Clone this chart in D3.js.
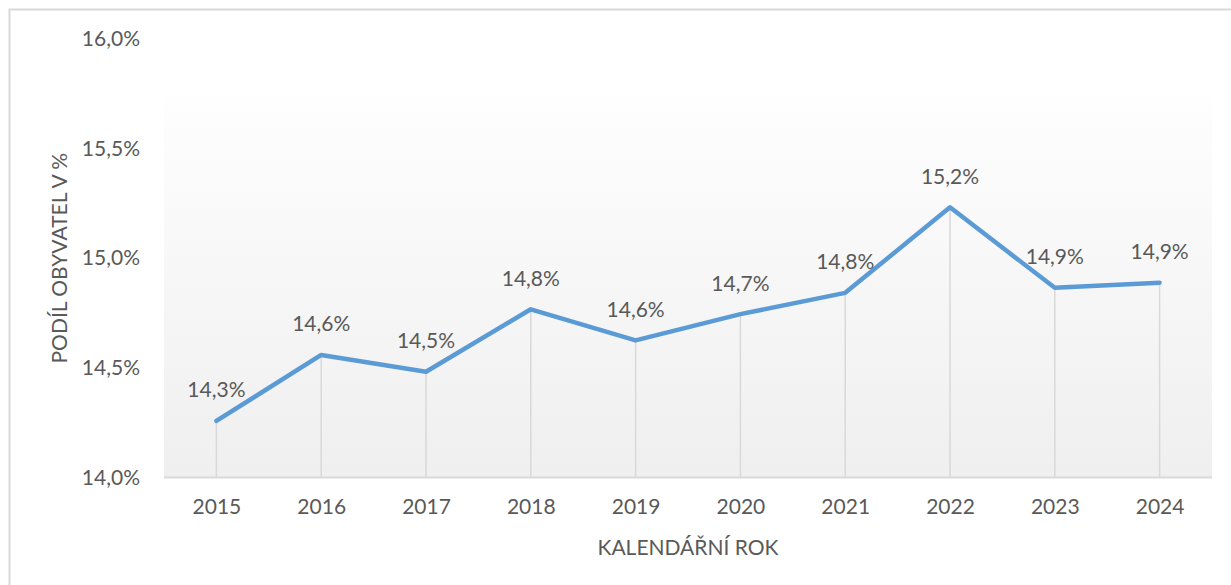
<!DOCTYPE html>
<html>
<head>
<meta charset="utf-8">
<script src="https://cdn.jsdelivr.net/npm/d3@7"></script>
<style>
  body { margin: 0; background: #fff; }
  text { font-family: Lato, "Open Sans", sans-serif; fill: #595959; }
</style>
</head>
<body>
<div class="chart"></div>
<script>
// Data

const years = ["2015", "2016", "2017", "2018", "2019", "2020", "2021", "2022", "2023", "2024"];
const shares = [14.258, 14.559, 14.482, 14.767, 14.625, 14.745, 14.842, 15.232, 14.865, 14.888];
const shareLabels = ["14,3%", "14,6%", "14,5%", "14,8%", "14,6%", "14,7%", "14,8%", "15,2%", "14,9%", "14,9%"];
const yTicks = [14.0, 14.5, 15.0, 15.5, 16.0];

// Measurements

const W = 1231, H = 585;
const plot = { left: 164, right: 1212, top: 95, bottom: 477 };
const lineColor = "#5B9BD5";
const gridColor = "#d9d9d9";

const svg = d3.select(".chart")
  .append("svg")
  .attr("width", W)
  .attr("height", H);

// Outer chart border

svg.append("rect")
  .attr("x", 9.5).attr("y", 9.5)
  .attr("width", W + 20).attr("height", H + 20)
  .attr("fill", "#fff")
  .attr("stroke", "#d9d9d9")
  .attr("stroke-width", 2);

// Scales

const x = d3.scalePoint()
  .domain(years)
  .range([plot.left, plot.right])
  .padding(0.5);

const y = d3.scaleLinear()
  .domain([14, 16])
  .range([477.5, 38.9]);

// Plot area gradient

const grad = svg.append("defs").append("linearGradient")
  .attr("id", "plotGrad")
  .attr("x1", 0).attr("y1", 0).attr("x2", 0).attr("y2", 1);
grad.append("stop").attr("offset", "0%").attr("stop-color", "#fefefe");
grad.append("stop").attr("offset", "100%").attr("stop-color", "#efefef");

svg.append("rect")
  .attr("x", plot.left)
  .attr("y", plot.top)
  .attr("width", plot.right - plot.left)
  .attr("height", plot.bottom - plot.top)
  .attr("fill", "url(#plotGrad)");

// Drop lines

svg.append("g")
  .selectAll("line")
  .data(years)
  .enter()
  .append("line")
  .attr("x1", (d) => x(d))
  .attr("x2", (d) => x(d))
  .attr("y1", (d, i) => y(shares[i]))
  .attr("y2", y(14))
  .attr("stroke", gridColor)
  .attr("stroke-width", 1.5);

// Axes

const xAxis = svg.append("g")
  .attr("transform", `translate(0, ${y(14)})`)
  .call(d3.axisBottom(x).tickSize(0).tickPadding(22));
xAxis.select(".domain")
  .attr("stroke", gridColor)
  .attr("stroke-width", 2)
  .attr("d", `M${plot.left},0H${plot.right}`);
xAxis.selectAll("text")
  .attr("font-size", 21)
  .attr("fill", "#595959")
  .style("font-family", "Lato, sans-serif");

const yAxis = svg.append("g")
  .attr("transform", "translate(140, 0)")
  .call(d3.axisLeft(y).tickValues(yTicks).tickSize(0).tickPadding(0)
    .tickFormat((d) => d3.format(".1f")(d).replace(".", ",") + "%"));
yAxis.select(".domain").remove();
yAxis.selectAll("text")
  .attr("font-size", 21)
  .attr("fill", "#595959")
  .style("font-family", "Lato, sans-serif");

// Line

const line = d3.line()
  .x((d, i) => x(years[i]))
  .y((d) => y(d));

svg.append("path")
  .datum(shares)
  .attr("d", line)
  .attr("fill", "none")
  .attr("stroke", lineColor)
  .attr("stroke-width", 4.5)
  .attr("stroke-linejoin", "round")
  .attr("stroke-linecap", "round");

// Data labels

svg.append("g")
  .selectAll("text")
  .data(shareLabels)
  .enter()
  .append("text")
  .attr("x", (d, i) => x(years[i]))
  .attr("y", (d, i) => y(shares[i]) - 32)
  .attr("text-anchor", "middle")
  .attr("dominant-baseline", "central")
  .attr("font-size", 21)
  .text((d) => d);

// Axis titles

svg.append("text")
  .attr("x", (plot.left + plot.right) / 2)
  .attr("y", 546)
  .attr("text-anchor", "middle")
  .attr("dominant-baseline", "central")
  .attr("font-size", 21)
  .text("KALENDÁŘNÍ ROK");

svg.append("text")
  .attr("transform", `translate(58, ${y(15)}) rotate(-90)`)
  .attr("text-anchor", "middle")
  .attr("dominant-baseline", "central")
  .attr("font-size", 21)
  .text("PODÍL OBYVATEL V %");
</script>
</body>
</html>
